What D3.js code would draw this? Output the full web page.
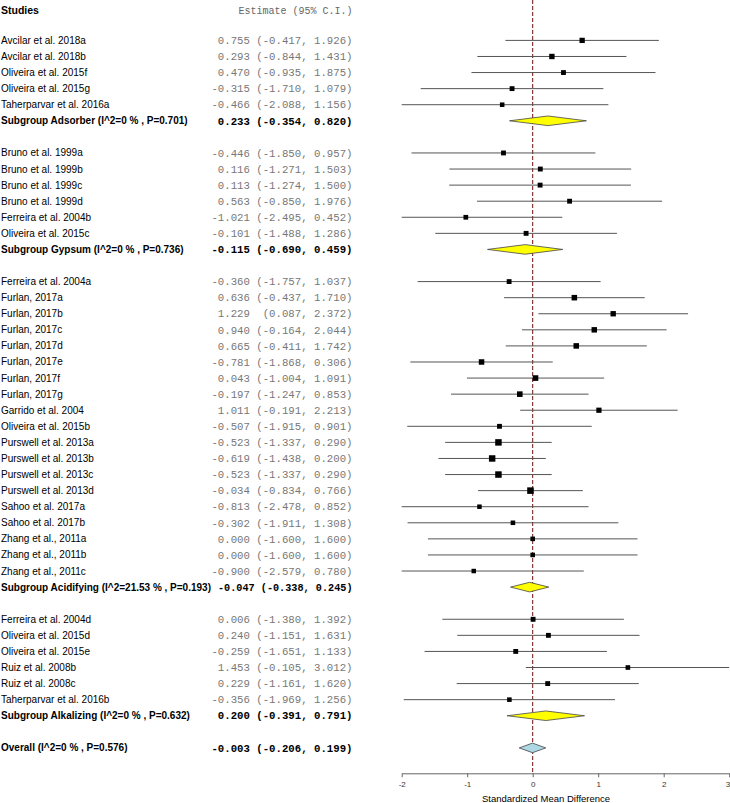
<!DOCTYPE html>
<html>
<head>
<meta charset="utf-8">
<script src="https://cdn.jsdelivr.net/npm/d3@7"></script>
<style>
  html, body { margin: 0; padding: 0; background: #fff; }
  svg { display: block; }
  text { white-space: pre; }
</style>
</head>
<body>
<svg id="chart" width="730" height="803"></svg>
<script>
// ---------- data ----------
const studyNames = [
  "Avcilar et al. 2018a","Avcilar et al. 2018b","Oliveira et al. 2015f","Oliveira et al. 2015g","Taherparvar et al. 2016a",
  "Bruno et al. 1999a","Bruno et al. 1999b","Bruno et al. 1999c","Bruno et al. 1999d","Ferreira et al. 2004b","Oliveira et al. 2015c",
  "Ferreira et al. 2004a","Furlan, 2017a","Furlan, 2017b","Furlan, 2017c","Furlan, 2017d","Furlan, 2017e","Furlan, 2017f","Furlan, 2017g",
  "Garrido et al. 2004","Oliveira et al. 2015b","Purswell et al. 2013a","Purswell et al. 2013b","Purswell et al. 2013c","Purswell et al. 2013d",
  "Sahoo et al. 2017a","Sahoo et al. 2017b","Zhang et al., 2011a","Zhang et al., 2011b","Zhang et al., 2011c",
  "Ferreira et al. 2004d","Oliveira et al. 2015d","Oliveira et al. 2015e","Ruiz et al. 2008b","Ruiz et al. 2008c","Taherparvar et al. 2016b"
];
const studyGroup = [
  0,0,0,0,0,
  1,1,1,1,1,1,
  2,2,2,2,2,2,2,2,2,2,2,2,2,2,2,2,2,2,2,
  3,3,3,3,3,3
];
const studyEst = [
  0.755,0.293,0.470,-0.315,-0.466,
  -0.446,0.116,0.113,0.563,-1.021,-0.101,
  -0.360,0.636,1.229,0.940,0.665,-0.781,0.043,-0.197,1.011,-0.507,-0.523,-0.619,-0.523,-0.034,-0.813,-0.302,0.000,0.000,-0.900,
  0.006,0.240,-0.259,1.453,0.229,-0.356
];
const studyLo = [
  -0.417,-0.844,-0.935,-1.710,-2.088,
  -1.850,-1.271,-1.274,-0.850,-2.495,-1.488,
  -1.757,-0.437,0.087,-0.164,-0.411,-1.868,-1.004,-1.247,-0.191,-1.915,-1.337,-1.438,-1.337,-0.834,-2.478,-1.911,-1.600,-1.600,-2.579,
  -1.380,-1.151,-1.651,-0.105,-1.161,-1.969
];
const studyHi = [
  1.926,1.431,1.875,1.079,1.156,
  0.957,1.503,1.500,1.976,0.452,1.286,
  1.037,1.710,2.372,2.044,1.742,0.306,1.091,0.853,2.213,0.901,0.290,0.200,0.290,0.766,0.852,1.308,1.600,1.600,0.780,
  1.392,1.631,1.133,3.012,1.620,1.256
];
const groupNames = ["Adsorber","Gypsum","Acidifying","Alkalizing"];
const groupI2 = ["0","0","21.53","0"];
const groupP = ["0.701","0.736","0.193","0.632"];
const groupEst = [0.233,-0.115,-0.047,0.200];
const groupLo = [-0.354,-0.690,-0.338,-0.391];
const groupHi = [0.820,0.459,0.245,0.791];
const overallEst = -0.003, overallLo = -0.206, overallHi = 0.199;
const overallI2 = "0", overallP = "0.576";
const xTicks = [-2,-1,0,1,2,3];
const xTitle = "Standardized Mean Difference";

// ---------- build rows ----------
const rows = [];
groupNames.forEach((g, gi) => {
  studyNames.forEach((n, i) => {
    if (studyGroup[i] === gi) rows.push({type:"study", label:n, est:studyEst[i], lo:studyLo[i], hi:studyHi[i]});
  });
  rows.push({type:"group", label:`Subgroup ${g} (I^2=${groupI2[gi]} % , P=${groupP[gi]})`,
             est:groupEst[gi], lo:groupLo[gi], hi:groupHi[gi]});
  rows.push({type:"blank"});
});
rows.push({type:"overall", label:`Overall (I^2=${overallI2} % , P=${overallP})`, est:overallEst, lo:overallLo, hi:overallHi});
rows.forEach((r, i) => r.idx = i);

const fmt = v => v.toFixed(3);
const ciText = r => fmt(r.est).padStart(6) + " " + ("(" + fmt(r.lo)).padStart(7) + ", " + fmt(r.hi).padStart(5) + ")";

// ---------- scales ----------
const x = d3.scaleLinear().domain([-2, 3]).range([401.7, 729.2]);
const y = d3.scaleLinear().domain([0, rows.length - 1]).range([40.4, 747.9]);
const axisY = 773.3;
const ciRight = 352.5;

const svg = d3.select("#chart");
const sans = "'Liberation Sans', Arial, sans-serif";
const mono = "'Liberation Mono', 'Courier New', monospace";

// headers
svg.append("text").attr("x", 1).attr("y", 10).attr("dy", "0.35em")
  .attr("font-family", sans).attr("font-size", 10.5).attr("font-weight", "bold").text("Studies");
svg.append("text").attr("x", ciRight).attr("y", 10).attr("dy", "0.35em").attr("text-anchor", "end")
  .attr("font-family", mono).attr("font-size", 10).attr("fill", "#666").text("Estimate (95% C.I.)");

// null line
svg.append("line").attr("x1", x(0)).attr("x2", x(0)).attr("y1", 0).attr("y2", axisY)
  .attr("stroke", "#6b0f0f").attr("stroke-width", 1).attr("stroke-dasharray", "4,2");

// labels
const dataRows = rows.filter(r => r.type !== "blank");
const labs = svg.append("g").selectAll("text").data(dataRows).join("text")
  .attr("x", 1).attr("y", r => y(r.idx)).attr("dy", "0.35em")
  .attr("font-family", sans).attr("font-size", 10)
  .attr("font-weight", r => r.type === "study" ? "normal" : "bold")
  .attr("fill", "#000").text(r => r.label);
labs.each(function(r) { r.labEnd = 1 + this.getComputedTextLength(); });

svg.append("g").selectAll("text").data(dataRows).join("text")
  .attr("x", ciRight).attr("y", r => y(r.idx)).attr("dy", "0.35em").attr("text-anchor", "end")
  .attr("font-family", mono).attr("font-size", 10.7)
  .attr("font-weight", r => r.type === "study" ? "normal" : "bold")
  .attr("fill", r => r.type === "study" ? "#777" : "#000").text(ciText)
  .each(function(r) {
    const len = this.getComputedTextLength();
    if (ciRight - len < r.labEnd + 6) {
      d3.select(this).attr("textLength", ciRight - (r.labEnd + 7)).attr("lengthAdjust", "spacingAndGlyphs");
    }
  });

// CI lines & squares
const studies = rows.filter(r => r.type === "study");
svg.append("g").selectAll("line").data(studies).join("line")
  .attr("x1", r => x(Math.max(-2, r.lo))).attr("x2", r => x(Math.min(3, r.hi)))
  .attr("y1", r => y(r.idx)).attr("y2", r => y(r.idx))
  .attr("stroke", "#555").attr("stroke-width", 1);

const boxSize = r => 2.6 + 6.3 / (r.hi - r.lo);
svg.append("g").selectAll("rect").data(studies).join("rect")
  .attr("x", r => x(r.est) - boxSize(r) / 2).attr("y", r => y(r.idx) - boxSize(r) / 2)
  .attr("width", boxSize).attr("height", boxSize).attr("fill", "#000");

// diamonds
const diamonds = rows.filter(r => r.type === "group" || r.type === "overall");
svg.append("g").selectAll("path").data(diamonds).join("path")
  .attr("d", r => {
    const cy = y(r.idx), h = 4.8;
    return `M${x(r.lo)},${cy}L${x(r.est)},${cy - h}L${x(r.hi)},${cy}L${x(r.est)},${cy + h}Z`;
  })
  .attr("fill", r => r.type === "group" ? "#ffff00" : "#add8e6")
  .attr("stroke", "#444").attr("stroke-width", 0.8);

// axis
const axis = d3.axisBottom(x).tickValues(xTicks).tickSize(4).tickSizeOuter(0).tickFormat(d => String(d));
const ag = svg.append("g").attr("transform", `translate(0,${axisY})`).call(axis);
ag.select(".domain").attr("stroke", "#666");
ag.selectAll(".tick line").attr("stroke", "#666");
ag.selectAll(".tick text").attr("font-family", sans).attr("font-size", 8).attr("fill", "#333").attr("y", 8)
  .filter(d => d === xTicks[xTicks.length - 1]).attr("text-anchor", "end").attr("x", 0.5);

svg.append("text").attr("x", 546).attr("y", 799).attr("dy", "0.35em").attr("text-anchor", "middle")
  .attr("font-family", sans).attr("font-size", 9.5).attr("fill", "#000").text(xTitle);
</script>
</body>
</html>
